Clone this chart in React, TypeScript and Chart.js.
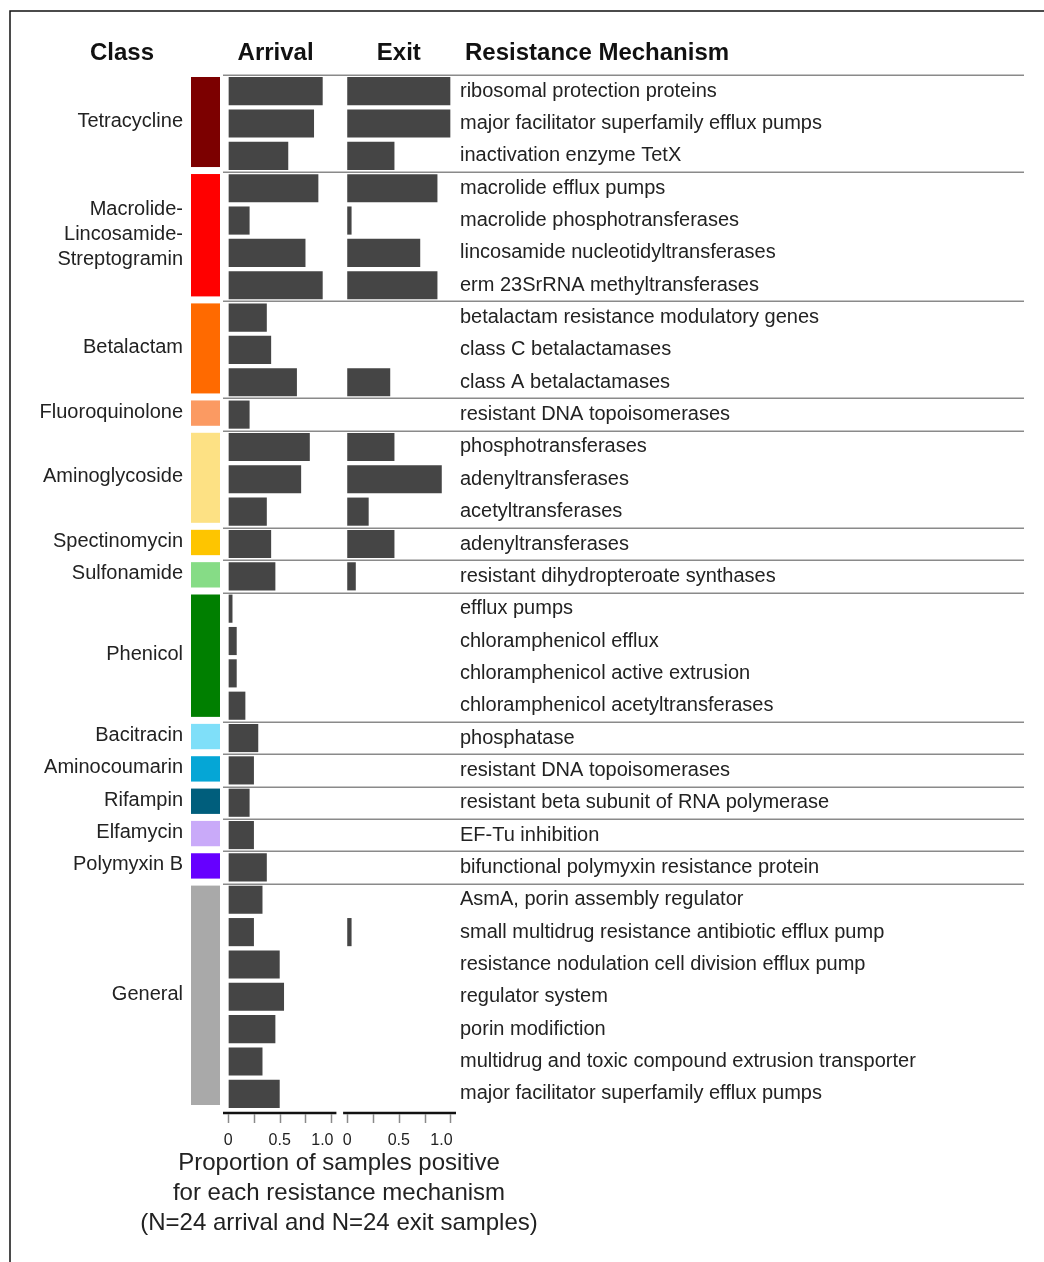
import { useEffect, useRef } from 'react';
import { Chart, registerables } from 'chart.js';

Chart.register(...registerables);

// ---------- data ----------
const MECHANISMS = [
  'ribosomal protection proteins',
  'major facilitator superfamily efflux pumps',
  'inactivation enzyme TetX',
  'macrolide efflux pumps',
  'macrolide phosphotransferases',
  'lincosamide nucleotidyltransferases',
  'erm 23SrRNA methyltransferases',
  'betalactam resistance modulatory genes',
  'class C betalactamases',
  'class A betalactamases',
  'resistant DNA topoisomerases',
  'phosphotransferases',
  'adenyltransferases',
  'acetyltransferases',
  'adenyltransferases',
  'resistant dihydropteroate synthases',
  'efflux pumps',
  'chloramphenicol efflux',
  'chloramphenicol active extrusion',
  'chloramphenicol acetyltransferases',
  'phosphatase',
  'resistant DNA topoisomerases',
  'resistant beta subunit of RNA polymerase',
  'EF-Tu inhibition',
  'bifunctional polymyxin resistance protein',
  'AsmA, porin assembly regulator',
  'small multidrug resistance antibiotic efflux pump',
  'resistance nodulation cell division efflux pump',
  'regulator system',
  'porin modifiction',
  'multidrug and toxic compound extrusion transporter',
  'major facilitator superfamily efflux pumps',
];

const ARRIVAL = [
  0.917, 0.833, 0.583,
  0.875, 0.208, 0.75, 0.917,
  0.375, 0.417, 0.667,
  0.208,
  0.792, 0.708, 0.375,
  0.417,
  0.458,
  0.042, 0.083, 0.083, 0.167,
  0.292,
  0.25,
  0.208,
  0.25,
  0.375,
  0.333, 0.25, 0.5, 0.542, 0.458, 0.333, 0.5,
];

const EXIT = [
  1.0, 1.0, 0.458,
  0.875, 0.042, 0.708, 0.875,
  0, 0, 0.417,
  0,
  0.458, 0.917, 0.208,
  0.458,
  0.083,
  0, 0, 0, 0,
  0,
  0,
  0,
  0,
  0,
  0, 0.042, 0, 0, 0, 0, 0,
];

const CLASS_NAMES = [
  'Tetracycline',
  'Macrolide-\nLincosamide-\nStreptogramin',
  'Betalactam',
  'Fluoroquinolone',
  'Aminoglycoside',
  'Spectinomycin',
  'Sulfonamide',
  'Phenicol',
  'Bacitracin',
  'Aminocoumarin',
  'Rifampin',
  'Elfamycin',
  'Polymyxin B',
  'General',
];
const CLASS_SIZES = [3, 4, 3, 1, 3, 1, 1, 4, 1, 1, 1, 1, 1, 7];
const CLASS_COLORS = [
  '#7c0000',
  '#ff0000',
  '#ff6a00',
  '#fb9a62',
  '#fde184',
  '#fec500',
  '#86dc86',
  '#007f00',
  '#7fdff9',
  '#05a6d6',
  '#005e7c',
  '#c9aaf9',
  '#6600ff',
  '#a9a9a9',
];

const TICK_VALUES = [0, 0.25, 0.5, 0.75, 1];
const TICK_LABELS = ['0', '', '0.5', '', '1.0'];
const PANEL_TITLES = ['Arrival', 'Exit'];
const X_TITLE = [
  'Proportion of samples positive',
  'for each resistance mechanism',
  '(N=24 arrival and N=24 exit samples)',
];

// ---------- layout constants ----------
const W = 1044;
const H = 1262;
const EXIT_OFFSET = 1.155;
const FONT = '"Liberation Sans", Arial, Helvetica, sans-serif';
const BAR_COLOR = '#454545';
const TEXT_COLOR = '#222222';

const decorPlugin = {
  id: 'decor',
  afterDraw(chart: any) {
    const ctx = chart.ctx as CanvasRenderingContext2D;
    const xs = chart.scales.x;
    const ys = chart.scales.y;
    const rowH = ys.getPixelForValue(1) - ys.getPixelForValue(0);
    const rowTop = (i: number) => ys.getPixelForValue(i) - rowH / 2;

    ctx.save();

    // frame
    ctx.strokeStyle = '#111';
    ctx.lineWidth = 1.5;
    ctx.beginPath();
    ctx.moveTo(10, H);
    ctx.lineTo(10, 11);
    ctx.lineTo(W, 11);
    ctx.stroke();

    // headers
    ctx.fillStyle = '#111';
    ctx.font = `bold 24px ${FONT}`;
    ctx.textBaseline = 'middle';
    ctx.textAlign = 'center';
    ctx.fillText('Class', 122, 53);
    ctx.fillText(PANEL_TITLES[0], xs.getPixelForValue(0.46), 53);
    ctx.fillText(PANEL_TITLES[1], xs.getPixelForValue(EXIT_OFFSET + 0.5), 53);
    ctx.textAlign = 'left';
    ctx.fillText('Resistance Mechanism', 465, 53);

    // groups: separators, colour blocks, class labels
    let start = 0;
    CLASS_SIZES.forEach((n, gi) => {
      const top = rowTop(start);
      const bottom = rowTop(start + n);
      ctx.strokeStyle = '#8a8a8a';
      ctx.lineWidth = 1.5;
      ctx.beginPath();
      ctx.moveTo(223, Math.round(top) + 0.25);
      ctx.lineTo(1024, Math.round(top) + 0.25);
      ctx.stroke();
      ctx.fillStyle = CLASS_COLORS[gi];
      const bt = top + 2;
      const bb = bottom - 5;
      ctx.fillRect(191, bt, 29, bb - bt);
      ctx.fillStyle = TEXT_COLOR;
      ctx.font = `20px ${FONT}`;
      ctx.textAlign = 'right';
      ctx.textBaseline = 'middle';
      const lines = CLASS_NAMES[gi].split('\n');
      const cy = (bt + bb) / 2 - 1;
      const lh = 25;
      lines.forEach((ln, li) => {
        ctx.fillText(ln, 183, cy + (li - (lines.length - 1) / 2) * lh);
      });
      start += n;
    });

    // axis segments and tick marks
    const axisY = chart.chartArea.bottom + 3;
    const segs = [
      [-0.05, 1.05],
      [EXIT_OFFSET - 0.04, EXIT_OFFSET + 1.055],
    ];
    ctx.strokeStyle = '#111';
    ctx.lineWidth = 2.5;
    segs.forEach(([a, b]) => {
      ctx.beginPath();
      ctx.moveTo(xs.getPixelForValue(a), axisY);
      ctx.lineTo(xs.getPixelForValue(b), axisY);
      ctx.stroke();
    });
    ctx.strokeStyle = '#8a8a8a';
    ctx.lineWidth = 1.5;
    xs.ticks.forEach((t: any) => {
      const px = Math.round(xs.getPixelForValue(t.value)) + 0.5;
      ctx.beginPath();
      ctx.moveTo(px, axisY + 1);
      ctx.lineTo(px, axisY + 10);
      ctx.stroke();
    });

    // x title
    ctx.fillStyle = TEXT_COLOR;
    ctx.font = `24px ${FONT}`;
    ctx.textAlign = 'center';
    ctx.textBaseline = 'middle';
    X_TITLE.forEach((ln, i) => {
      ctx.fillText(ln, 339, 1163 + i * 30);
    });

    ctx.restore();
  },
};

export default function App() {
  const canvasRef = useRef<HTMLCanvasElement | null>(null);

  useEffect(() => {
    document.body.style.margin = '0';
    document.body.style.overflow = 'hidden';
    const canvas = canvasRef.current;
    if (!canvas) return;
    const chart = new Chart(canvas, {
      type: 'bar',
      data: {
        labels: MECHANISMS,
        datasets: [
          {
            label: PANEL_TITLES[0],
            data: ARRIVAL,
            backgroundColor: BAR_COLOR,
            grouped: false,
            barPercentage: 0.87,
            categoryPercentage: 1,
            borderWidth: 0,
          } as any,
          {
            label: PANEL_TITLES[1],
            data: EXIT.map((v) => [EXIT_OFFSET, EXIT_OFFSET + v]),
            backgroundColor: BAR_COLOR,
            grouped: false,
            barPercentage: 0.87,
            categoryPercentage: 1,
            borderWidth: 0,
          } as any,
        ],
      },
      options: {
        indexAxis: 'y',
        animation: false,
        responsive: false,
        devicePixelRatio: 1,
        layout: { padding: { left: 223, right: 28, top: 75, bottom: 112 } },
        plugins: {
          legend: { display: false },
          tooltip: { enabled: false },
        },
        scales: {
          x: {
            type: 'linear',
            position: 'bottom',
            min: -0.05,
            max: 2.21,
            border: { display: false },
            grid: {
              display: true,
              drawOnChartArea: false,
              drawTicks: true,
              tickLength: 13,
              color: 'rgba(0,0,0,0)',
            },
            ticks: {
              autoSkip: false,
              maxRotation: 0,
              padding: 8,
              color: TEXT_COLOR,
              font: { family: FONT, size: 16 },
              callback: (_v: any, i: number) => {
                const k = i % TICK_LABELS.length;
                // the top label sits slightly left of its tick in the reference
                return k === TICK_LABELS.length - 1
                  ? TICK_LABELS[k] + '\u00a0\u00a0\u00a0\u00a0'
                  : TICK_LABELS[k];
              },
            },
            afterBuildTicks: (s: any) => {
              s.ticks = [
                ...TICK_VALUES,
                ...TICK_VALUES.map((v) => v + EXIT_OFFSET),
              ].map((value) => ({ value }));
            },
            afterFit: (s: any) => {
              s.height = 40;
            },
          },
          y: {
            type: 'category',
            position: 'right',
            offset: true,
            border: { display: false },
            grid: { display: false, drawTicks: false },
            ticks: {
              autoSkip: false,
              padding: 4,
              color: TEXT_COLOR,
              font: { family: FONT, size: 20 },
            },
            afterFit: (s: any) => {
              s.width = 560;
            },
          },
        },
      } as any,
      plugins: [decorPlugin],
    });
    return () => chart.destroy();
  }, []);

  return (
    <div
      style={{
        position: 'absolute',
        left: 0,
        top: 0,
        width: W,
        height: H,
        background: '#fff',
      }}
    >
      <canvas ref={canvasRef} width={W} height={H} style={{ display: 'block' }} />
    </div>
  );
}
